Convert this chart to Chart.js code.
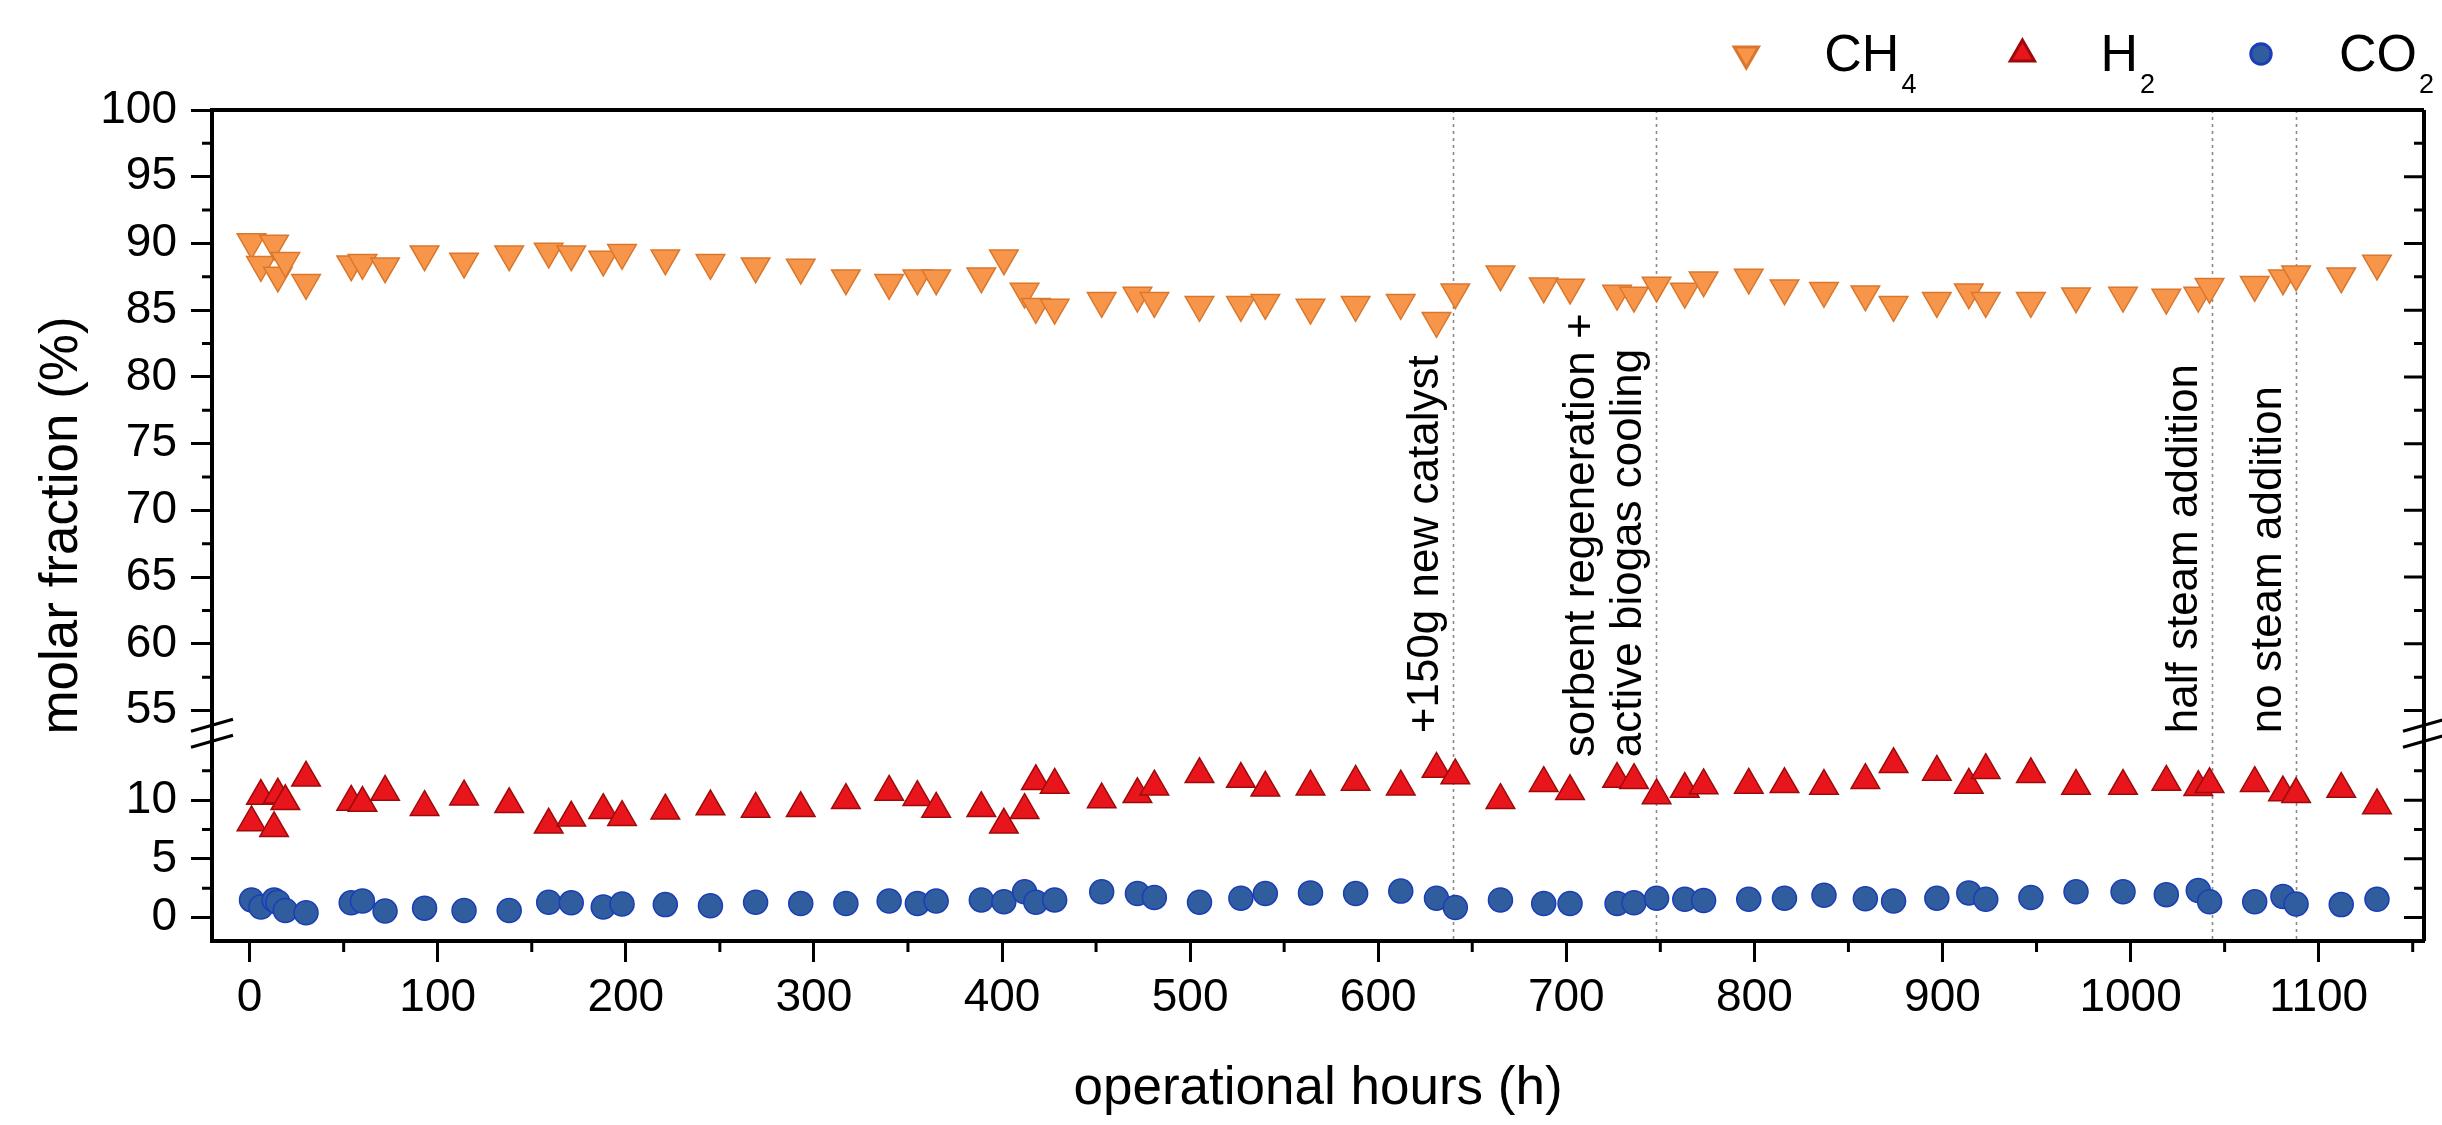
<!DOCTYPE html>
<html>
<head>
<meta charset="utf-8">
<script src="https://cdn.jsdelivr.net/npm/chart.js@4.4.0/dist/chart.umd.min.js"></script>
<style>
  html, body { margin: 0; padding: 0; background: #fff; }
  canvas { display: block; }
</style>
</head>
<body>
<canvas id="chart" width="2442" height="1125"></canvas>
<script>
// sampling times (operational hours) shared by all three gases
const hours = [1, 6, 13, 15, 19, 30, 54, 60, 72, 93, 114, 138, 159, 171, 188, 198, 221, 245, 269, 293,
  317, 340, 355, 365, 389, 401, 412, 418, 428, 453, 472, 481, 505, 527, 540, 564, 588, 612, 631, 641,
  665, 688, 702, 727, 736, 748, 763, 773, 797, 816, 837, 859, 874, 897, 914, 923, 947, 971, 996, 1019,
  1036, 1042, 1066, 1081, 1088, 1112, 1131];

const ch4 = [90.1, 88.4, 90.0, 87.6, 88.7, 87.05, 88.45, 88.55, 88.3, 89.2, 88.65, 89.2, 89.4, 89.2, 88.8, 89.3, 88.9, 88.55, 88.3, 88.2,
  87.4, 87.05, 87.4, 87.4, 87.55, 88.9, 86.4, 85.25, 85.2, 85.7, 86.1, 85.7, 85.4, 85.4, 85.55, 85.2, 85.4, 85.55, 84.2, 86.35,
  87.7, 86.8, 86.7, 86.25, 86.1, 86.85, 86.4, 87.25, 87.45, 86.65, 86.45, 86.2, 85.4, 85.7, 86.35, 85.7, 85.7, 86.05, 86.1, 85.95,
  86.1, 86.75, 86.9, 87.4, 87.7, 87.55, 88.5];

const h2 = [8.1, 10.35, 7.6, 10.45, 9.9, 11.9, 9.85, 9.75, 10.7, 9.4, 10.3, 9.65, 7.9, 8.5, 9.15, 8.55, 9.1, 9.45, 9.25, 9.3,
  10.0, 10.7, 10.25, 9.25, 9.3, 7.9, 9.15, 11.6, 11.3, 10.05, 10.5, 11.15, 12.2, 11.8, 11.05, 11.15, 11.55, 11.15, 12.65, 12.1,
  10.0, 11.45, 10.75, 11.8, 11.7, 10.4, 10.95, 11.25, 11.3, 11.35, 11.2, 11.7, 13.05, 12.4, 11.3, 12.55, 12.2, 11.2, 11.2, 11.55,
  11.1, 11.35, 11.45, 10.65, 10.5, 10.95, 9.55];

const co2 = [1.5, 0.9, 1.5, 1.3, 0.6, 0.4, 1.25, 1.4, 0.55, 0.8, 0.6, 0.6, 1.3, 1.25, 0.9, 1.15, 1.1, 1.0, 1.3, 1.2,
  1.2, 1.4, 1.2, 1.4, 1.5, 1.35, 2.2, 1.3, 1.5, 2.2, 2.05, 1.7, 1.3, 1.65, 2.05, 2.1, 2.05, 2.25, 1.65, 0.85,
  1.5, 1.2, 1.2, 1.2, 1.25, 1.65, 1.55, 1.45, 1.55, 1.65, 1.9, 1.6, 1.4, 1.65, 2.1, 1.55, 1.7, 2.2, 2.2, 1.95,
  2.3, 1.35, 1.35, 1.8, 1.15, 1.1, 1.55];

// process changes marked with dotted lines
const eventHours = [640, 747.5, 1043.5, 1088];
const eventNotes = [
  ['+150g new catalyst'],
  ['sorbent regeneration +', 'active biogas cooling'],
  ['half steam addition'],
  ['no steam addition']
];

const FONT = "'Liberation Sans', Arial, Helvetica, sans-serif";
Chart.defaults.font.family = FONT;
Chart.defaults.color = '#000';

const pts = ys => hours.map((h, i) => ({ x: h, y: ys[i] }));

const tickGrid = { drawOnChartArea: false, drawTicks: true, tickLength: 21, tickWidth: 3, tickColor: '#000' };
const axisBorder = { display: true, color: '#000', width: 4 };
const tickFont = { family: FONT, size: 46 };
const plain = v => String(v);

// frame, minor ticks, axis break, event lines, legend, y title
const decorations = {
  id: 'decorations',
  beforeDatasetsDraw(chart) {
    const { ctx, chartArea } = chart;
    const xs = chart.scales.x;
    ctx.save();
    ctx.strokeStyle = '#8a8a8a';
    ctx.lineWidth = 1.6;
    ctx.setLineDash([3, 4]);
    eventHours.forEach(h => {
      const px = Math.round(xs.getPixelForValue(h)) + 0.5;
      ctx.beginPath();
      ctx.moveTo(px, chartArea.top);
      ctx.lineTo(px, chartArea.bottom);
      ctx.stroke();
    });
    ctx.restore();
  },
  afterDraw(chart) {
    const { ctx, chartArea } = chart;
    const { left, right, top, bottom } = chartArea;
    const xs = chart.scales.x;
    const yLow = chart.scales.y;
    const yTop = chart.scales.yTop;
    ctx.save();
    ctx.strokeStyle = '#000';
    ctx.fillStyle = '#000';

    // top and right frame
    ctx.lineWidth = 4;
    ctx.beginPath();
    ctx.moveTo(left - 2, top);
    ctx.lineTo(right, top);
    ctx.moveTo(right, top);
    ctx.lineTo(right, bottom);
    ctx.stroke();

    // minor ticks, mirrored ticks on the right
    ctx.lineWidth = 3;
    ctx.beginPath();
    for (let v = 50; v <= xs.max; v += 100) {
      const px = xs.getPixelForValue(v);
      ctx.moveTo(px, bottom);
      ctx.lineTo(px, bottom + 11);
    }
    [yLow, yTop].forEach(s => {
      s.ticks.forEach(t => {
        const py = s.getPixelForValue(t.value);
        ctx.moveTo(right, py);
        ctx.lineTo(right - 20, py);
        const m = t.value + 2.5;
        if (m < s.max) {
          const pm = s.getPixelForValue(m);
          ctx.moveTo(left, pm);
          ctx.lineTo(left - 10, pm);
          ctx.moveTo(right, pm);
          ctx.lineTo(right - 10, pm);
        }
      });
    });
    ctx.stroke();

    // axis break marks
    const by = yTop.bottom;
    ctx.lineWidth = 3;
    ctx.beginPath();
    [left, right].forEach(bx => {
      [-8, 8].forEach(d => {
        ctx.moveTo(bx - 21, by + d + 6);
        ctx.lineTo(bx + 21, by + d - 6);
      });
    });
    ctx.stroke();

    // event notes (rotated)
    const noteDrop = [0, 24, 0, 0];
    ctx.font = '44px ' + FONT;
    ctx.textAlign = 'left';
    ctx.textBaseline = 'alphabetic';
    eventHours.forEach((h, i) => {
      const px = xs.getPixelForValue(h);
      const lines = eventNotes[i];
      lines.forEach((txt, j) => {
        const bx = px - 15 - (lines.length - 1 - j) * 47;
        ctx.save();
        ctx.translate(bx, by + noteDrop[i]);
        ctx.rotate(-Math.PI / 2);
        ctx.fillText(txt, 0, 0);
        ctx.restore();
      });
    });

    // y axis title centred on the whole plot height
    ctx.save();
    ctx.font = '53px ' + FONT;
    ctx.textAlign = 'center';
    ctx.textBaseline = 'alphabetic';
    ctx.translate(77, (top + bottom) / 2);
    ctx.rotate(-Math.PI / 2);
    ctx.fillText('molar fraction (%)', 0, 0);
    ctx.restore();

    // legend with subscripts
    const mainFont = '52px ' + FONT;
    const subFont = '27px ' + FONT;
    const items = chart.data.datasets.map(ds => {
      const main = ds.label.replace(/\d+$/, '');
      const sub = (ds.label.match(/\d+$/) || [''])[0];
      ctx.font = mainFont;
      const wm = ctx.measureText(main).width;
      ctx.font = subFont;
      const ws = ctx.measureText(sub).width;
      return { ds, main, sub, wm, ws };
    });
    const textGap = 78, itemGap = 106;
    let total = 0;
    items.forEach((it, k) => {
      total += textGap + it.wm + 2 + it.ws + (k < items.length - 1 ? itemGap : 0);
    });
    let mx = chart.width - 8 - total;
    items.forEach(it => {
      const ds = it.ds;
      ctx.fillStyle = ds.pointBackgroundColor;
      ctx.strokeStyle = ds.pointBorderColor;
      Chart.helpers.drawPoint(ctx, {
        pointStyle: ds.pointStyle,
        radius: ds.pointRadius * 0.85,
        rotation: ds.pointRotation || 0,
        borderWidth: ds.pointBorderWidth
      }, mx, 54);
      ctx.fillStyle = '#000';
      ctx.textAlign = 'left';
      ctx.font = mainFont;
      const tx = mx + textGap;
      ctx.fillText(it.main, tx, 71);
      ctx.font = subFont;
      ctx.fillText(it.sub, tx + it.wm + 2, 93);
      mx = tx + it.wm + 2 + it.ws + itemGap;
    });

    ctx.restore();
  }
};

new Chart(document.getElementById('chart'), {
  type: 'scatter',
  data: {
    datasets: [
      {
        label: 'CH4', data: pts(ch4), yAxisID: 'yTop',
        pointStyle: 'triangle', pointRotation: 180, pointRadius: 16.5, pointHoverRadius: 16.5,
        pointBackgroundColor: '#F7964A', pointBorderColor: '#D9772C', pointBorderWidth: 1.5
      },
      {
        label: 'H2', data: pts(h2), yAxisID: 'y',
        pointStyle: 'triangle', pointRadius: 16.5, pointHoverRadius: 16.5,
        pointBackgroundColor: '#E8161C', pointBorderColor: '#9E0A0A', pointBorderWidth: 1.5
      },
      {
        label: 'CO2', data: pts(co2), yAxisID: 'y',
        pointStyle: 'circle', pointRadius: 12, pointHoverRadius: 12,
        pointBackgroundColor: '#2F5D9E', pointBorderColor: '#1B3DB8', pointBorderWidth: 1.5
      }
    ]
  },
  options: {
    responsive: false,
    animation: false,
    devicePixelRatio: 1,
    layout: { padding: { top: 110, left: 0, right: 0, bottom: 0 } },
    plugins: { legend: { display: false }, tooltip: { enabled: false } },
    scales: {
      x: {
        type: 'linear', position: 'bottom', min: -20, max: 1156,
        ticks: { stepSize: 100, includeBounds: false, autoSkip: false, font: tickFont, color: '#000', padding: 9, maxRotation: 0, callback: plain },
        grid: tickGrid, border: axisBorder,
        title: {
          display: true, text: 'operational hours (h)', color: '#000',
          font: { family: FONT, size: 53 }, padding: { top: 0, bottom: 4 }
        },
        afterFit: s => { s.height = 184; }
      },
      y: {
        type: 'linear', position: 'left', stack: 'frac', stackWeight: 1, min: -2, max: 15.7,
        ticks: { stepSize: 5, includeBounds: false, autoSkip: false, font: tickFont, color: '#000', padding: 14, callback: plain },
        grid: tickGrid, border: axisBorder,
        afterBuildTicks: s => { s.ticks = s.ticks.filter(t => t.value <= 10.001); },
        afterFit: s => { s.width = 212; }
      },
      yTop: {
        type: 'linear', position: 'left', stack: 'frac', stackWeight: 3, min: 53.3, max: 100,
        ticks: { stepSize: 5, includeBounds: false, autoSkip: false, font: tickFont, color: '#000', padding: 14, callback: plain },
        grid: tickGrid, border: axisBorder,
        afterFit: s => { s.width = 212; }
      }
    }
  },
  plugins: [decorations]
});
</script>
</body>
</html>
